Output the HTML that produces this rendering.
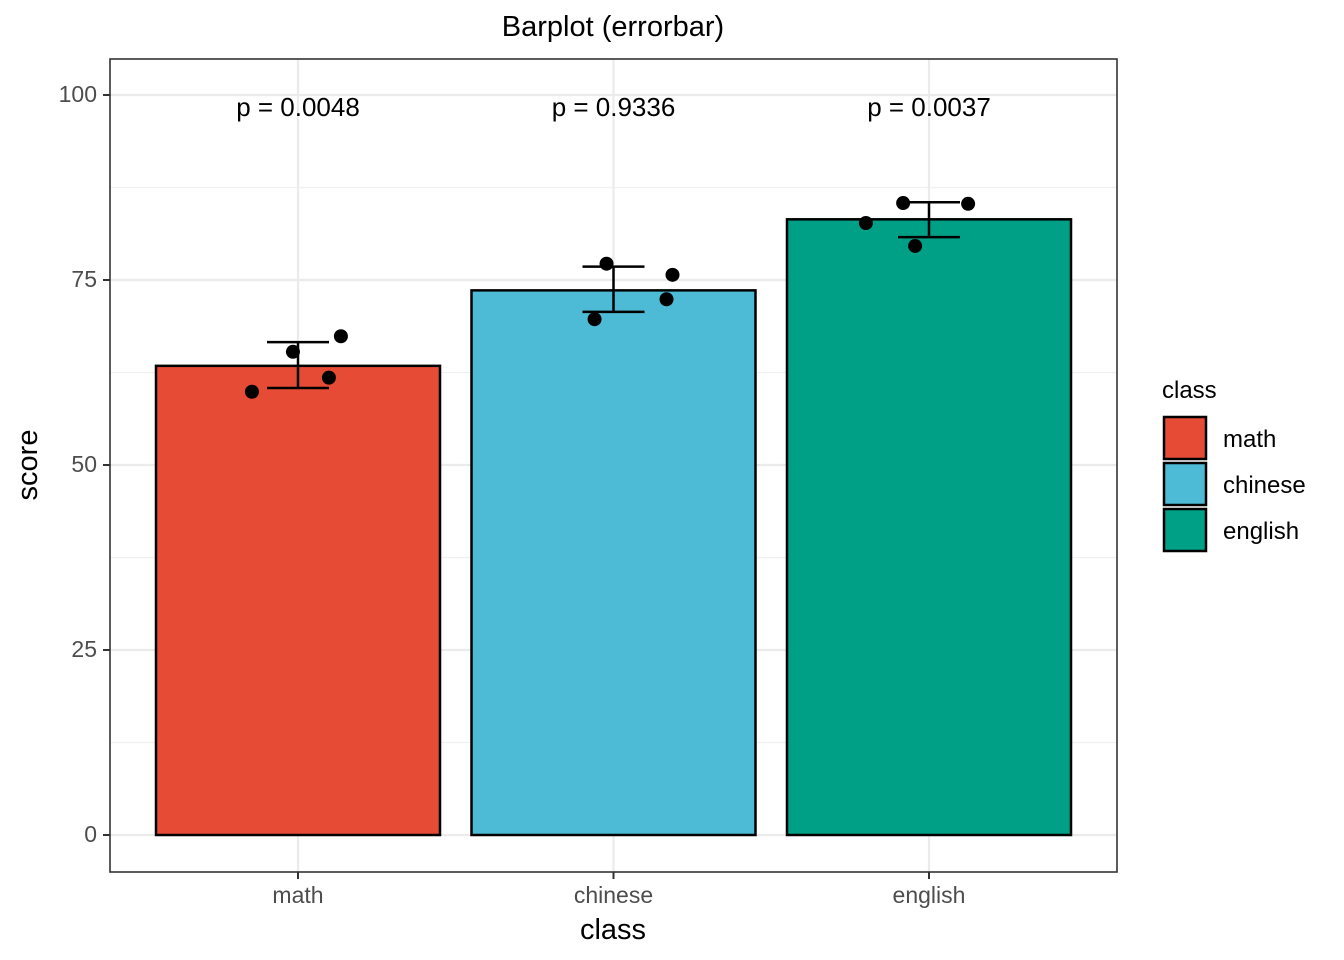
<!DOCTYPE html>
<html><head><meta charset="utf-8"><style>
body{margin:0;background:#fff}
svg{display:block;font-family:"Liberation Sans",sans-serif}
</style></head><body>
<svg id="chart" width="1344" height="960" viewBox="0 0 1344 960">
<rect x="0" y="0" width="1344" height="960" fill="#fff"/>
<g id="grid"></g>
<g id="bars"></g>
<g id="axes"></g>
<text x="613" y="36" text-anchor="middle" font-size="29" fill="#000">Barplot (errorbar)</text>
<text x="613" y="939" text-anchor="middle" font-size="29" fill="#000">class</text>
<text transform="translate(37,465) rotate(-90)" text-anchor="middle" font-size="29" fill="#000">score</text>
<g id="legend"></g>
</svg>
<script>
const categories=["math","chinese","english"];
const means=[63.4,73.6,83.2];
const errLow=[60.4,70.7,80.8];
const errHigh=[66.6,76.8,85.5];
const pointValues=[[59.9,65.3,61.8,67.4],[69.7,77.2,72.4,75.7],[82.7,85.4,79.6,85.3]];
const pointJitter=[[-0.146,-0.016,0.098,0.136],[-0.06,-0.022,0.168,0.187],[-0.2,-0.082,-0.044,0.124]];
const pLabels=["p = 0.0048","p = 0.9336","p = 0.0037"];
const colors=["#E64B35","#4DBBD5","#00A087"];
const yTicks=[0,25,50,75,100];
const NS="http://www.w3.org/2000/svg";
const L=110,R=1117,T=59,B=872;
const y=v=>835-v*7.4;
const step=315.5;
const x=i=>298+i*step;
function mk(tag,attrs,parent){const e=document.createElementNS(NS,tag);for(const k in attrs)e.setAttribute(k,attrs[k]);parent.appendChild(e);return e;}
const grid=document.getElementById('grid'),bars=document.getElementById('bars'),axes=document.getElementById('axes'),legend=document.getElementById('legend');
mk('rect',{x:L,y:T,width:R-L,height:B-T,fill:'#fff'},grid);
for(let i=0;i<yTicks.length-1;i++){const m=(yTicks[i]+yTicks[i+1])/2;const g=mk('line',{x1:L,x2:R,y1:y(m),y2:y(m),stroke:'#f0f0f0','stroke-width':1.2},grid);

}
yTicks.forEach(t=>{const g=mk('line',{x1:L,x2:R,y1:y(t),y2:y(t),stroke:'#ebebeb','stroke-width':2.2},grid);


mk('line',{x1:103,x2:L,y1:y(t),y2:y(t),stroke:'#333','stroke-width':2},axes);
const tx=mk('text',{x:97,y:y(t)+7,'text-anchor':'end','font-size':23,fill:'#4d4d4d'},axes);tx.textContent=t;

});
categories.forEach((c,i)=>{const g=mk('line',{x1:x(i),x2:x(i),y1:T,y2:B,stroke:'#ebebeb','stroke-width':2.2},grid);

});
const bw=284;
categories.forEach((c,i)=>{
const b=mk('rect',{x:x(i)-bw/2,y:y(means[i]),width:bw,height:y(0)-y(means[i]),fill:colors[i],stroke:'#000','stroke-width':2.5},bars);


const eg=mk('g',{stroke:'#000','stroke-width':2.5},bars);


mk('line',{x1:x(i),x2:x(i),y1:y(errLow[i]),y2:y(errHigh[i])},eg);
mk('line',{x1:x(i)-31,x2:x(i)+31,y1:y(errLow[i]),y2:y(errLow[i])},eg);
mk('line',{x1:x(i)-31,x2:x(i)+31,y1:y(errHigh[i]),y2:y(errHigh[i])},eg);
pointValues[i].forEach((v,j)=>{const p=mk('circle',{cx:x(i+pointJitter[i][j]),cy:y(v),r:7,fill:'#000'},bars);

});
const pt=mk('text',{x:x(i),y:116,'text-anchor':'middle','font-size':26,fill:'#000'},bars);pt.textContent=pLabels[i];


mk('line',{x1:x(i),x2:x(i),y1:B,y2:B+7,stroke:'#333','stroke-width':2},axes);
const xt=mk('text',{x:x(i),y:903,'text-anchor':'middle','font-size':23,fill:'#4d4d4d'},axes);xt.textContent=c;


const lk=mk('rect',{x:1164,y:417+i*46,width:42,height:42,fill:colors[i],stroke:'#000','stroke-width':2.5},legend);


const lt=mk('text',{x:1223,y:447+i*46,'font-size':24,fill:'#000'},legend);lt.textContent=c;


});
mk('rect',{x:L,y:T,width:R-L,height:B-T,fill:'none',stroke:'#333','stroke-width':1.6},axes);
const lt=mk('text',{x:1162,y:398,'font-size':24,fill:'#000'},legend);lt.textContent='class';


</script>
</body></html>
